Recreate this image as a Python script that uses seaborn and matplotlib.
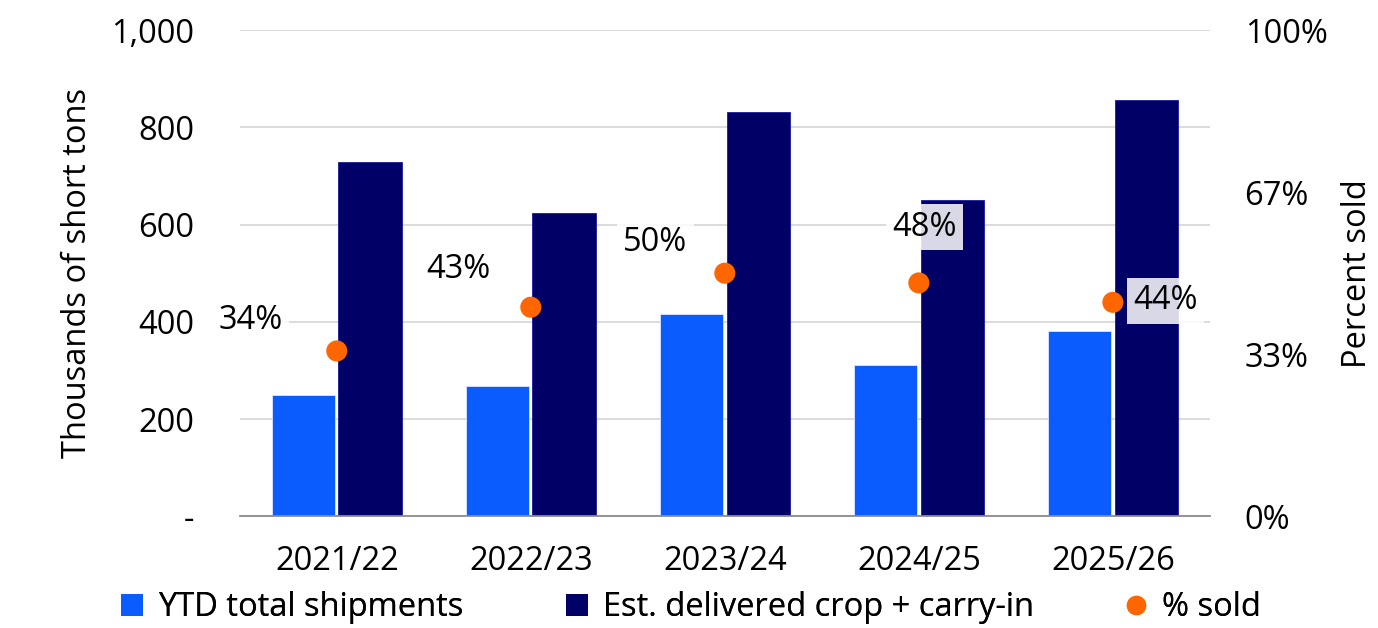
import numpy as np
import pandas as pd
import matplotlib
matplotlib.use("Agg")
import matplotlib.pyplot as plt
from matplotlib.lines import Line2D
from matplotlib.patches import Patch
import seaborn as sns

seasons = ["2021/22", "2022/23", "2023/24", "2024/25", "2025/26"]
ytd_shipments = [249, 267, 415, 311, 381]
est_delivered = [728, 623, 831, 650, 856]
pct_sold = [34, 43, 50, 48, 44]

series_names = ["YTD total shipments", "Est. delivered crop + carry-in", "% sold"]
left_ticks = [0, 200, 400, 600, 800, 1000]
left_ticklabels = ["-", "200", "400", "600", "800", "1,000"]
right_ticks = [0, 100 / 3, 200 / 3, 100]
right_ticklabels = ["0%", "33%", "67%", "100%"]

C_LIGHT = "#0A5CFF"
C_NAVY = "#000066"
C_ORANGE = "#FF6600"

sns.set_theme(style="white")
plt.rcParams["font.family"] = ["Open Sans", "DejaVu Sans"]
plt.rcParams["text.color"] = "black"
plt.rcParams["axes.labelcolor"] = "black"
plt.rcParams["xtick.color"] = "black"
plt.rcParams["ytick.color"] = "black"
FS = 23.5

df = pd.DataFrame({
    "season": seasons * 2,
    "value": ytd_shipments + est_delivered,
    "series": [series_names[0]] * len(seasons) + [series_names[1]] * len(seasons),
})

fig = plt.figure(figsize=(13.78, 6.28), dpi=100)
ax = fig.add_axes([0.174, 0.178, 0.704, 0.774])

sns.barplot(data=df, x="season", y="value", hue="series", order=seasons,
            hue_order=series_names[:2], palette=[C_LIGHT, C_NAVY], saturation=1,
            width=0.69, gap=0.05, ax=ax, legend=False, zorder=3)
n = len(seasons)
for i, p in enumerate(ax.patches[:2 * n]):
    p.set_edgecolor("#DDE6FF" if i < n else "#1A1AA0")
    p.set_linewidth(0.6)

ax.set_ylim(0, 1000)
ax.set_xlim(-0.5, n - 0.5)
ax.set_yticks(left_ticks)
ax.set_yticklabels(left_ticklabels, fontsize=FS)
ax.tick_params(axis="y", length=0, pad=33)
ax.tick_params(axis="x", length=0, pad=21, labelsize=FS)
ax.set_xlabel("")
ax.set_ylabel("Thousands of short tons", fontsize=FS, labelpad=12.5)
ax.yaxis.grid(True, color="#D9D9D9", linewidth=1.3, zorder=0)
ax.set_axisbelow(True)
for s in ["top", "right", "left"]:
    ax.spines[s].set_visible(False)
ax.spines["bottom"].set_color("#8C8C8C")
ax.spines["bottom"].set_linewidth(1.3)
ax.spines["bottom"].set_zorder(4)

ax2 = ax.twinx()
sns.scatterplot(x=np.arange(n), y=pct_sold, color=C_ORANGE, s=230,
                edgecolor="none", ax=ax2, zorder=5)
ax2.set_ylim(0, 100)
ax2.set_yticks(right_ticks)
ax2.set_yticklabels(right_ticklabels, fontsize=FS)
ax2.tick_params(axis="y", length=0, pad=25)
ax2.set_ylabel("Percent sold", fontsize=FS, labelpad=10)
for s in ax2.spines.values():
    s.set_visible(False)

# value labels beside each dot (offsets in points)
offsets = [(-62, 22), (-52, 27), (-50, 22), (4, 40), (38, 1)]
for i, (v, (dx, dy)) in enumerate(zip(pct_sold, offsets)):
    ax2.annotate(f"{v}%", (i, v), xytext=(dx, dy), textcoords="offset points",
                 ha="center", va="center", fontsize=FS, color="black", zorder=6,
                 bbox=dict(boxstyle="square,pad=0.2", facecolor="white",
                           edgecolor="none", alpha=0.85))

handles = [Patch(facecolor=C_LIGHT, edgecolor="none"),
           Patch(facecolor=C_NAVY, edgecolor="none"),
           Line2D([], [], marker="o", linestyle="none", color=C_ORANGE, markersize=13)]
legend_x = [0.078, 0.401, 0.8065]
for h, label, x in zip(handles, series_names, legend_x):
    leg = fig.legend([h], [label], loc="center left", bbox_to_anchor=(x, 0.032),
                     frameon=False, fontsize=FS, handlelength=0.7, handleheight=0.7,
                     handletextpad=0.45, borderaxespad=0)
    fig.add_artist(leg)

fig.savefig("out.png", dpi=100)
